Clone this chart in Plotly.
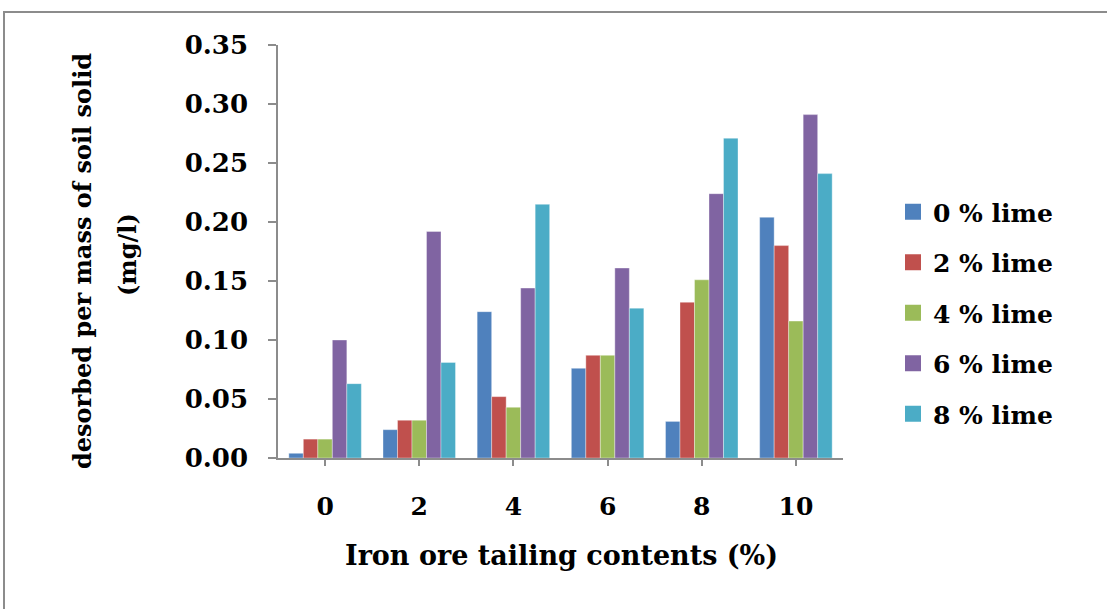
import plotly.graph_objects as go

# Iron ore tailing content (%) categories
tailing = ["0", "2", "4", "6", "8", "10"]

# Desorbed amount per mass of soil solid (mg/l) for each lime dose
lime_0 = [0.004, 0.024, 0.124, 0.076, 0.031, 0.204]
lime_2 = [0.016, 0.032, 0.052, 0.087, 0.132, 0.180]
lime_4 = [0.016, 0.032, 0.043, 0.087, 0.151, 0.116]
lime_6 = [0.100, 0.192, 0.144, 0.161, 0.224, 0.291]
lime_8 = [0.063, 0.081, 0.215, 0.127, 0.271, 0.241]

series_names = ["0 % lime", "2 % lime", "4 % lime", "6 % lime", "8 % lime"]
series_values = [lime_0, lime_2, lime_4, lime_6, lime_8]
colors = ["#4F81BD", "#C0504D", "#9BBB59", "#8064A2", "#4BACC6"]

FONT = "DejaVu Serif"

fig = go.Figure()
for i, (name, vals, col) in enumerate(zip(series_names, series_values, colors)):
    fig.add_trace(go.Bar(
        x=tailing, y=vals, name=name, legendgroup=f"g{i}", showlegend=False,
        marker=dict(color=col, line=dict(color="rgba(255,255,255,0.6)", width=0.6)),
    ))
# Square legend keys
for i, (name, col) in enumerate(zip(series_names, colors)):
    fig.add_trace(go.Scatter(
        x=[None], y=[None], mode="markers", name=name, legendgroup=f"g{i}",
        marker=dict(symbol="square", size=16, color=col),
    ))

W, H = 1107, 609
L, R, T, B = 278, 843, 45, 458
pw, ph = R - L, B - T

def px_x(x):
    return (x - L) / pw

def px_y(y):
    return (B - y) / ph

title_font = dict(family=FONT, size=24, color="black", weight="bold")

fig.update_layout(
    width=W, height=H,
    margin=dict(l=L, r=W - R, t=T, b=H - B, autoexpand=False),
    paper_bgcolor="white", plot_bgcolor="white",
    barmode="group", bargap=0.23, bargroupgap=0.0,
    font=dict(family=FONT, color="black", size=20),
    legend=dict(
        x=px_x(893), y=px_y(189), xanchor="left", yanchor="top",
        font=dict(family=FONT, size=25, color="black", weight="bold"),
        tracegroupgap=15, itemwidth=30, bgcolor="rgba(0,0,0,0)",
    ),
    xaxis=dict(
        type="category", showline=True, linecolor="#8C8C8C", linewidth=1.5,
        ticks="outside", ticklen=6, tickcolor="#8C8C8C", tickwidth=1.5,
        tickfont=dict(family=FONT, size=25, weight="bold"), ticklabelstandoff=19,
        showgrid=False,
    ),
    yaxis=dict(
        range=[0, 0.35], dtick=0.05, tickformat=".2f",
        showline=True, linecolor="#8C8C8C", linewidth=1.5,
        ticks="outside", ticklen=8, tickcolor="#8C8C8C", tickwidth=1.5,
        tickfont=dict(family=FONT, size=26, weight="bold"), ticklabelstandoff=15,
        showgrid=False, zeroline=False,
    ),
    annotations=[
        dict(text="Iron ore tailing contents (%)", xref="paper", yref="paper",
             x=px_x(561), y=px_y(555), xanchor="center", yanchor="middle",
             showarrow=False, font=dict(title_font, size=27)),
        dict(text="desorbed per mass of soil solid", xref="paper", yref="paper",
             x=px_x(82), y=px_y(261), xanchor="center", yanchor="middle",
             textangle=-90, showarrow=False, font=title_font),
        dict(text="(mg/l)", xref="paper", yref="paper",
             x=px_x(127), y=px_y(255), xanchor="center", yanchor="middle",
             textangle=-90, showarrow=False, font=title_font),
    ],
    shapes=[dict(
        type="rect", xref="paper", yref="paper",
        x0=px_x(4), x1=px_x(W + 20), y0=px_y(H + 20), y1=px_y(12),
        line=dict(color="#8C8C8C", width=2), fillcolor="rgba(0,0,0,0)", layer="below",
    )],
)

fig.write_html("out.html")
